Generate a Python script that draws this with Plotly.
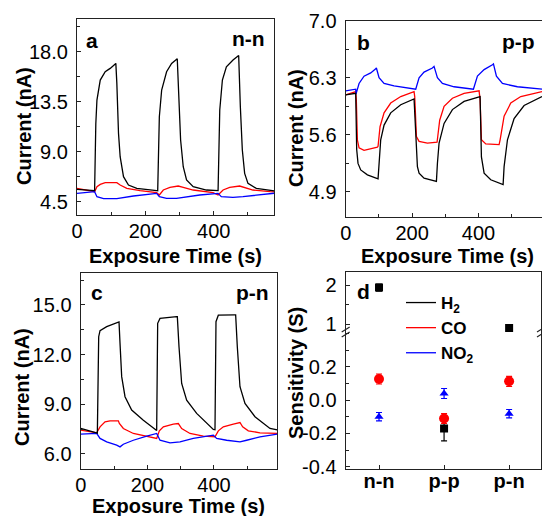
import plotly.graph_objects as go

W, H = 542, 516
FONT = "Liberation Sans, Arial, sans-serif"

# ---------------- Panel a (n-n) ----------------
a_h2_t = [0, 51.5, 55, 58.3, 68, 82.5, 97, 113.6, 116.5, 121.4, 126.2, 136, 150.5, 174.8, 233, 236,
          240.8, 247.6, 262, 276.7, 293.2, 298, 303, 310.7, 320.4, 339.8, 378.6, 412.6,
          417.5, 425.2, 436.9, 456.3, 472.8, 477.7, 483.5, 490.3, 500, 524.3, 565, 577]
a_h2_i = [5.6, 5.5, 11.5, 13.65, 15.45, 16.2, 16.5, 16.95, 15.15, 10.65, 8.55, 6.75, 6.0, 5.7, 5.49, 5.48,
          12.15, 14.55, 16.2, 16.95, 17.37, 13.65, 10.05, 7.65, 6.45, 5.85, 5.55, 5.49,
          12.75, 15.45, 16.65, 17.25, 17.67, 13.05, 9.15, 7.05, 6.15, 5.7, 5.49, 5.48]
a_co_t = [0, 51.5, 58.3, 68, 82.5, 116.5, 126.2, 145.6, 184.5, 233, 240.8, 252.4, 271.8, 296, 310.7,
          339.8, 398, 412.6, 427.2, 446.6, 475.7, 490.3, 514.6, 565, 577]
a_co_i = [5.7, 5.4, 5.85, 6.06, 6.21, 6.21, 6.0, 5.7, 5.49, 5.31, 5.1, 5.55, 5.79, 5.91, 5.79,
          5.55, 5.31, 5.1, 5.55, 5.79, 5.91, 5.79, 5.55, 5.4, 5.38]
a_no2_t = [0, 51.5, 58.3, 77.7, 116.5, 165, 233, 240.8, 262, 291, 359, 412.6, 422, 456, 485.4, 565, 577]
a_no2_i = [5.25, 5.4, 4.95, 4.77, 4.77, 5.01, 5.25, 4.95, 4.8, 4.8, 5.1, 5.25, 4.95, 4.89, 4.95, 5.25, 5.26]

# ---------------- Panel b (p-p) ----------------
b_h2_t = [0, 30.1, 33.1, 37.1, 45.2, 65.3, 97.4, 100.4, 105.4, 115.5, 135.5, 165.7, 205.8, 215.9, 220.9,
          235.9, 273.1, 276.1, 281.1, 296.2, 321.3, 356.4, 404.6, 408.6, 416.7, 436.7, 473.9, 476.9,
          487, 507, 537.1, 591]
b_h2_i = [6.09, 6.11, 5.42, 5.25, 5.17, 5.11, 5.06, 5.29, 5.54, 5.72, 5.87, 5.97, 6.04, 5.21, 5.13,
          5.07, 5.03, 5.25, 5.5, 5.74, 5.91, 6.01, 6.07, 5.33, 5.13, 5.05, 4.99, 5.21,
          5.54, 5.8, 5.96, 6.07]
b_co_t = [0, 25, 30.1, 32, 35.1, 40.2, 55.2, 95.4, 97.4, 103.4, 115.5, 135.5, 165.7, 205.8, 207.8, 212.9,
          220.9, 246, 275.1, 283, 296.2, 321.3, 356.4, 401.6, 404.6, 408.6, 421.7, 461.8, 464.9,
          476.9, 497, 527.1, 591]
b_co_i = [6.09, 6.12, 6.13, 6.03, 5.54, 5.44, 5.41, 5.45, 5.46, 5.7, 5.87, 5.99, 6.07, 6.13, 6.07, 5.58,
          5.52, 5.5, 5.51, 5.78, 5.95, 6.05, 6.11, 6.14, 6.03, 5.54, 5.49, 5.48, 5.54,
          5.83, 5.99, 6.07, 6.13]
b_no2_t = [0, 30.1, 31, 40.2, 55.2, 75.3, 90.4, 92.4, 100.4, 115.5, 145.6, 205.8, 210.8, 220.9, 235.9,
           261, 266, 276.1, 291.2, 326.3, 381.5, 384.5, 396.6, 416.7, 441.8, 444.8, 453.8, 471.9, 517, 591]
b_no2_i = [6.14, 6.16, 6.1, 6.23, 6.32, 6.36, 6.41, 6.42, 6.3, 6.23, 6.2, 6.17, 6.16, 6.3, 6.37,
           6.42, 6.44, 6.3, 6.23, 6.19, 6.17, 6.16, 6.32, 6.4, 6.46, 6.47, 6.32, 6.23, 6.19, 6.16]

# ---------------- Panel c (p-n) ----------------
c_h2_t = [0, 48, 50, 54, 58, 78, 113, 115, 118, 123, 133, 153, 188, 226, 228, 231, 238, 288, 290, 295,
          303, 318, 348, 398, 403, 406, 413, 463, 465, 470, 478, 493, 523, 568, 590]
c_h2_i = [7.54, 7.28, 7.26, 13.08, 13.45, 13.69, 13.95, 13.97, 12.68, 10.67, 9.46, 8.65, 8.04, 7.44, 7.42,
          13.89, 14.19, 14.29, 14.29, 12.48, 10.26, 9.25, 8.45, 7.48, 7.46, 13.99, 14.38, 14.4, 14.4,
          12.48, 10.06, 9.05, 8.25, 7.54, 7.45]
c_co_t = [0, 48, 58, 73, 88, 113, 116, 128, 158, 198, 228, 236, 248, 278, 293, 303, 328, 368, 403, 413,
          428, 458, 478, 486, 503, 538, 590]
c_co_i = [7.44, 7.28, 7.64, 7.94, 8.0, 8.0, 7.84, 7.54, 7.24, 7.08, 6.94, 7.4, 7.64, 7.8, 7.84, 7.54,
          7.24, 7.08, 7.04, 7.4, 7.64, 7.8, 7.9, 7.64, 7.4, 7.28, 7.24]
c_no2_t = [0, 48, 58, 78, 108, 118, 128, 158, 198, 228, 238, 268, 298, 338, 398, 408, 438, 478, 498, 538, 590]
c_no2_i = [7.2, 7.24, 6.94, 6.73, 6.53, 6.43, 6.59, 6.83, 7.08, 7.24, 6.83, 6.67, 6.73, 6.94, 7.14,
           6.94, 6.83, 6.73, 6.83, 7.04, 7.2]

# ---------------- Panel d (sensitivity) ----------------
d_cats = ["n-n", "p-p", "p-n"]
d_h2 = [1.94, -0.17, 0.90]
d_h2_err = [0.09, 0.075, 0.05]
d_co = [0.127, -0.11, 0.113]
d_co_err = [0.03, 0.03, 0.03]
d_no2 = [-0.099, 0.04, -0.081]
d_no2_err = [0.025, 0.03, 0.025]
d_break = 0.6

# ---------------- ticks ----------------
time_ticks = [0, 200, 400]
a_yticks = [4.5, 9.0, 13.5, 18.0]
b_yticks = [4.9, 5.6, 6.3, 7.0]
c_yticks = [6.0, 9.0, 12.0, 15.0]
d_low_ticks = [-0.4, -0.2, 0.0, 0.2]
d_low_text = ["-0.4", "-0.2", "0.0", "0.2"]
d_up_ticks = [1, 2]

COL = {"H2": "#000000", "CO": "#ff0000", "NO2": "#0000ff"}
NAMES = {"H2": "H<sub>2</sub>", "CO": "CO", "NO2": "NO<sub>2</sub>"}


def px_x(p):
    return p / W


def px_y(p):
    return 1 - p / H


fig = go.Figure()

panels = [
    ("x", "y", (a_h2_t, a_h2_i), (a_co_t, a_co_i), (a_no2_t, a_no2_i), True),
    ("x2", "y2", (b_h2_t, b_h2_i), (b_co_t, b_co_i), (b_no2_t, b_no2_i), False),
    ("x3", "y3", (c_h2_t, c_h2_i), (c_co_t, c_co_i), (c_no2_t, c_no2_i), False),
]
for xa, ya, h2, co, no2, leg in panels:
    for key, (tt, ii) in (("CO", co), ("NO2", no2), ("H2", h2)):
        fig.add_trace(go.Scatter(x=tt, y=ii, mode="lines", xaxis=xa, yaxis=ya,
                                 line=dict(color=COL[key], width=1.3),
                                 name=NAMES[key], showlegend=leg,
                                 legendrank={"H2": 1, "CO": 2, "NO2": 3}[key]))


def split(vals, errs, upper):
    xs, ys, es = [], [], []
    for c, v, e in zip(d_cats, vals, errs):
        if (v > d_break) == upper:
            xs.append(c); ys.append(v); es.append(e)
    return xs, ys, es


for key, vals, errs, sym, size in (("H2", d_h2, d_h2_err, "square", 8),
                                    ("CO", d_co, d_co_err, "circle", 10),
                                    ("NO2", d_no2, d_no2_err, "triangle-up", 8)):
    for upper in (False, True):
        xs, ys, es = split(vals, errs, upper)
        if not xs:
            continue
        fig.add_trace(go.Scatter(x=xs, y=ys, mode="markers",
                                 xaxis="x5" if upper else "x4", yaxis="y5" if upper else "y4",
                                 marker=dict(symbol=sym, size=size, color=COL[key]),
                                 error_y=dict(type="data", array=es, visible=True,
                                              color=COL[key], thickness=1.2, width=3),
                                 showlegend=False))

LINE = "#222222"
tickfont = dict(family=FONT, size=20, color="black")
base = dict(showline=True, linecolor=LINE, linewidth=1.3, mirror=True, ticks="inside",
            ticklen=4, tickwidth=1.2, tickcolor=LINE, showgrid=False, zeroline=False,
            tickfont=tickfont, automargin=False)


def xax(dom, rng, anchor):
    return dict(base, domain=[px_x(dom[0]), px_x(dom[1])], range=rng, anchor=anchor,
                tickvals=time_ticks, ticktext=[str(v) for v in time_ticks],
                minor=dict(ticks="inside", ticklen=3, tickcolor=LINE, tick0=100, dtick=200),
                ticklabelstandoff=-2)


def yax(dom, rng, anchor, tv, mdt):
    return dict(base, domain=[px_y(dom[1]), px_y(dom[0])], range=rng, anchor=anchor,
                tickvals=tv, ticktext=["%.1f" % v for v in tv],
                minor=dict(ticks="inside", ticklen=3, tickcolor=LINE, tick0=tv[0], dtick=mdt),
                ticklabelstandoff=4)


d_xdom = [px_x(345.7), px_x(541)]
fig.update_layout(
    width=W, height=H, margin=dict(l=0, r=0, t=0, b=0, autoexpand=False),
    paper_bgcolor="white", plot_bgcolor="white",
    font=dict(family=FONT, size=20, color="black"),
    xaxis=xax((77, 274.3), [0, 577], "y"),
    yaxis=yax((19.3, 215), [3.3, 20.92], "x", a_yticks, 2.25),
    xaxis2=xax((345.7, 542), [0, 591], "y2"),
    yaxis2=yax((20.7, 217), [4.593, 7.0], "x2", b_yticks, 0.35),
    xaxis3=xax((80.7, 277.3), [0, 590], "y3"),
    yaxis3=yax((273.3, 469), [5.094, 16.91], "x3", c_yticks, 1.5),
    xaxis4=dict(base, domain=d_xdom, anchor="y4", type="category", categoryarray=d_cats,
                range=[-0.512, 2.49], mirror=False,
                tickfont=dict(family=FONT, size=20, color="black", weight="bold"),
                ticklabelstandoff=-6),
    xaxis5=dict(domain=d_xdom, anchor="y5", side="top", type="category", categoryarray=d_cats,
                range=[-0.512, 2.49], showline=True, linecolor=LINE, linewidth=1.3,
                ticks="", showticklabels=False, showgrid=False, zeroline=False, automargin=False),
    yaxis4=dict(base, domain=[px_y(469.3), px_y(332)], range=[-0.415, 0.409], anchor="x4",
                tickvals=d_low_ticks, ticktext=d_low_text,
                minor=dict(ticks="inside", ticklen=3, tickcolor=LINE, tick0=-0.4, dtick=0.1),
                ticklabelstandoff=4),
    yaxis5=dict(base, domain=[px_y(332), px_y(272.3)], range=[0.8, 2.33], anchor="x5",
                tickvals=d_up_ticks, ticktext=[str(v) for v in d_up_ticks],
                minor=dict(ticks="inside", ticklen=3, tickcolor=LINE, tick0=1.5, dtick=1),
                ticklabelstandoff=4),
    legend=dict(x=px_x(401), y=px_y(285), xanchor="left", yanchor="top",
                font=dict(family=FONT, size=17, color="black", weight="bold"),
                bgcolor="rgba(0,0,0,0)", tracegroupgap=0, itemwidth=30),
)

ann = []


def text(s, x, y, size=20, angle=0):
    ann.append(dict(text=s, x=px_x(x), y=px_y(y), xref="paper", yref="paper",
                    showarrow=False, xanchor="center", yanchor="middle", textangle=angle,
                    font=dict(family=FONT, size=size, color="black", weight="bold")))


text("a", 92, 40, 21); text("n-n", 248, 38, 21)
text("b", 363, 42, 21); text("p-p", 518, 41, 21)
text("c", 97, 292, 21); text("p-n", 252, 292, 21)
text("d", 363, 291, 21)
text("Exposure Time (s)", 175, 256)
text("Exposure Time (s)", 447, 256)
text("Exposure Time (s)", 178, 506)
text("Current (nA)", 24, 126, 20, -90)
text("Current (nA)", 296, 128, 20, -90)
text("Current (nA)", 22, 387, 20, -90)
text("Sensitivity (S)", 296, 373, 20, -90)
fig.update_layout(annotations=ann)

shapes = []
for xc in (345.7, 541):
    for dy in (-2.5, 2.5):
        shapes.append(dict(type="line", xref="paper", yref="paper",
                           x0=px_x(xc - 4), y0=px_y(332 + dy + 2.5),
                           x1=px_x(xc + 4), y1=px_y(332 + dy - 2.5),
                           line=dict(color=LINE, width=1.2)))
fig.update_layout(shapes=shapes)

fig.write_html("out.html", config={"displayModeBar": False},
               post_script="document.body.style.margin='0';document.body.style.overflow='hidden';")
